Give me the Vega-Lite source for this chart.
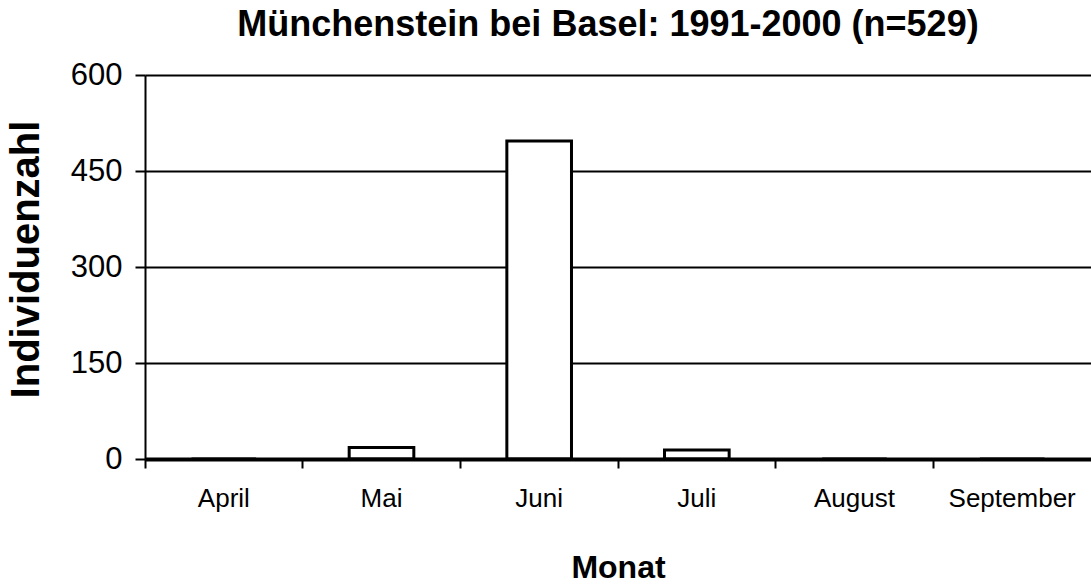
{
  "$schema": "https://vega.github.io/schema/vega-lite/v6.json",
  "width": 946,
  "height": 384,
  "autosize": "none",
  "padding": {"left": 145, "top": 75, "right": 0, "bottom": 128},
  "background": "white",
  "title": {
    "text": "Münchenstein bei Basel: 1991-2000 (n=529)",
    "font": "Liberation Sans",
    "fontSize": 36,
    "fontWeight": "bold",
    "color": "black",
    "anchor": "middle",
    "frame": "group",
    "baseline": "alphabetic",
    "dx": -10,
    "offset": -13
  },
  "data": {
    "values": [
      {"Monat": "April", "Individuenzahl": 0},
      {"Monat": "Mai", "Individuenzahl": 18},
      {"Monat": "Juni", "Individuenzahl": 497},
      {"Monat": "Juli", "Individuenzahl": 14},
      {"Monat": "August", "Individuenzahl": 0},
      {"Monat": "September", "Individuenzahl": 0}
    ]
  },
  "config": {
    "view": {"stroke": null},
    "font": "Liberation Sans"
  },
  "mark": {"type": "bar", "fill": "white", "stroke": "black", "strokeWidth": 3, "width": {"band": 0.41}},
  "encoding": {
    "x": {
      "field": "Monat",
      "type": "nominal",
      "sort": null,
      "scale": {"paddingInner": 0, "paddingOuter": 0},
      "axis": {
        "title": "Monat",
        "titleFont": "Liberation Sans",
        "titleFontSize": 32,
        "titleFontWeight": "bold",
        "titleColor": "black",
        "titleBaseline": "alphabetic",
        "titleY": 118,
        "titleX": 473,
        "labelAngle": 0,
        "labelFont": "Liberation Sans",
        "labelFontSize": 26,
        "labelColor": "black",
        "labelPadding": 17,
        "bandPosition": 0,
        "tickSize": 9,
        "tickWidth": 2,
        "tickColor": "black",
        "domainColor": "black",
        "domainWidth": 4,
        "grid": false,
        "zindex": 1
      }
    },
    "y": {
      "field": "Individuenzahl",
      "type": "quantitative",
      "scale": {"domain": [0, 600], "nice": false},
      "axis": {
        "title": "Individuenzahl",
        "titleFont": "Liberation Sans",
        "titleFontSize": 40,
        "titleFontWeight": "bold",
        "titleColor": "black",
        "titleAngle": -90,
        "titleBaseline": "alphabetic",
        "titleX": -107,
        "titleY": 184,
        "values": [0, 150, 300, 450, 600],
        "labelFont": "Liberation Sans",
        "labelFontSize": 31,
        "labelColor": "black",
        "labelPadding": 13,
        "tickSize": 10,
        "tickWidth": 2,
        "tickColor": "black",
        "domainColor": "black",
        "domainWidth": 2,
        "grid": true,
        "gridColor": "black",
        "gridWidth": 2,
        "gridOpacity": 1
      }
    }
  }
}
